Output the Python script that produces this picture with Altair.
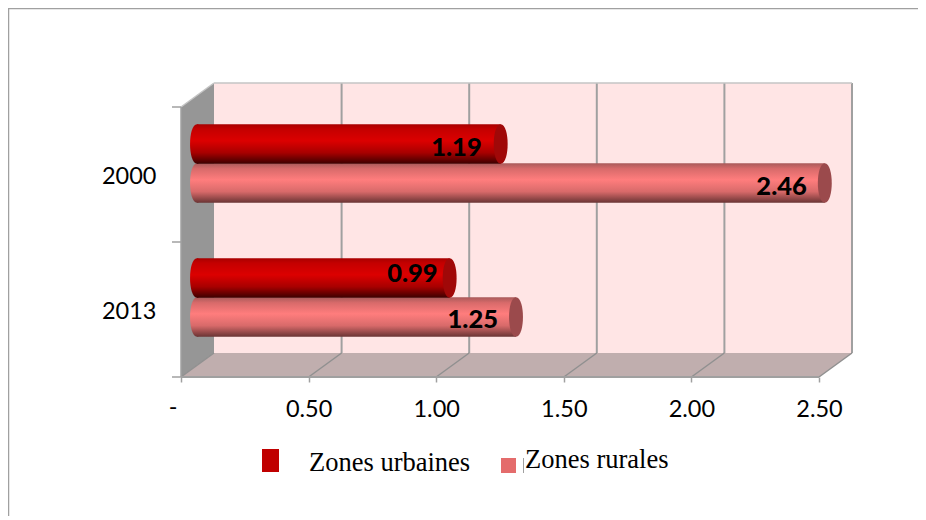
import altair as alt
import pandas as pd

# ---- values ----
years = ["2000", "2000", "2013", "2013"]
zones = ["Zones urbaines", "Zones rurales", "Zones urbaines", "Zones rurales"]
values = [1.19, 2.46, 0.99, 1.25]
x_ticks = [0.0, 0.5, 1.0, 1.5, 2.0, 2.5]
year_labels = ["2013", "2000"]

# ---- layout of the pseudo-3D scene ----
W, H = 910, 508
PX_PER_X, PX_PER_Y = 255.2, 135.0
X0_PAGE, Y0_PAGE = 181.0, 377.0
X_DOM = [(8 - X0_PAGE) / PX_PER_X, (8 + W - X0_PAGE) / PX_PER_X]
Y_DOM = [(Y0_PAGE - 8 - H) / PX_PER_Y, (Y0_PAGE - 8) / PX_PER_Y]
DX, DY = 33 / PX_PER_X, 24 / PX_PER_Y          # depth of the box
BAR_DX = 16 / PX_PER_X                         # bars stand mid-depth
BAR_H = 39.5 / PX_PER_Y
XMAX, YMAX = 2.5, 2.0
slot = {"2000": 1.5, "2013": 0.5}
GRID = "#a0a0a0"
LABEL_FONT = "Lato"

x_s = alt.Scale(domain=X_DOM, nice=False, zero=False)
y_s = alt.Scale(domain=Y_DOM, nice=False, zero=False)
x_axis = alt.Axis(values=x_ticks, domain=False, grid=False, title=None, tickSize=5, tickWidth=1.5,
                  tickColor=GRID, labelFont=LABEL_FONT, labelFontSize=23.5, labelColor="black",
                  labelPadding=15, labelOverlap=False, labelFlush=False,
                  labelExpr="datum.value == 0 ? '' : format(datum.value, '.2f')",
                  offset=-(8 + H - Y0_PAGE))
y_axis = alt.Axis(values=[0.5, 1.5], domain=False, grid=False, title=None, ticks=False,
                  labelFont=LABEL_FONT, labelFontSize=23.5, labelColor="black", labelPadding=25,
                  labelOffset=2,
                  labelExpr="datum.value == 0.5 ? '2013' : '2000'",
                  offset=-(X0_PAGE - 8))


def X(f="x"):
    return alt.X(f"{f}:Q", scale=x_s, axis=x_axis)


def Y(f="y"):
    return alt.Y(f"{f}:Q", scale=y_s, axis=y_axis)


def grad(stops):
    return alt.Gradient(gradient="linear", x1=0, y1=0, x2=0, y2=1,
                        stops=[alt.GradientStop(offset=o, color=c) for o, c in stops])


layers = []

# back wall
layers.append(alt.Chart(pd.DataFrame({"x": [DX], "x2": [XMAX + DX], "y": [DY], "y2": [YMAX + DY]}))
              .mark_rect(color="#ffe5e5")
              .encode(x=X(), x2="x2:Q", y=Y(), y2="y2:Q"))
# left wall
layers.append(alt.Chart(pd.DataFrame({"x": [0, DX], "y": [YMAX, YMAX + DY], "y2": [0, DY]}))
              .mark_area(color="#969696", orient="vertical")
              .encode(x=X(), y=Y(), y2="y2:Q"))
# floor
layers.append(alt.Chart(pd.DataFrame({"y": [0, DY], "x": [0, DX], "x2": [XMAX, XMAX + DX]}))
              .mark_area(color="#c0aeae", orient="horizontal")
              .encode(y=Y(), x=X(), x2="x2:Q"))
# grid: vertical on back wall, diagonal on floor
grid_v = pd.DataFrame({"x": [t + DX for t in x_ticks[1:]], "y": DY, "y2": YMAX + DY})
layers.append(alt.Chart(grid_v).mark_rule(color=GRID, strokeWidth=2)
              .encode(x=X(), y=Y(), y2="y2:Q"))
grid_d = pd.DataFrame({"x": x_ticks, "x2": [t + DX for t in x_ticks], "y": 0.0, "y2": DY})
layers.append(alt.Chart(grid_d).mark_rule(color="#909090", strokeWidth=1.5)
              .encode(x=X(), x2="x2:Q", y=Y(), y2="y2:Q"))
# top edges of the box
top = pd.DataFrame({"x": [0.0, DX], "x2": [DX, XMAX + DX], "y": [YMAX, YMAX + DY], "y2": [YMAX + DY, YMAX + DY]})
layers.append(alt.Chart(top).mark_rule(color="#c4c4c4", strokeWidth=1.5)
              .encode(x=X(), x2="x2:Q", y=Y(), y2="y2:Q"))
# front axis lines and left-hand ticks
layers.append(alt.Chart(pd.DataFrame({"x": [0.0], "x2": [XMAX], "y": [0.0]}))
              .mark_rule(color=GRID, strokeWidth=2).encode(x=X(), x2="x2:Q", y=Y()))
layers.append(alt.Chart(pd.DataFrame({"x": [0.0], "y": [0.0], "y2": [YMAX]}))
              .mark_rule(color=GRID, strokeWidth=1.5).encode(x=X(), y=Y(), y2="y2:Q"))
layers.append(alt.Chart(pd.DataFrame({"x": [-9 / PX_PER_X] * 3, "x2": [0.0] * 3, "y": [0.0, 1.0, 2.0]}))
              .mark_rule(color=GRID, strokeWidth=1.5).encode(x=X(), x2="x2:Q", y=Y()))

# cylinders
styles = {
    "Zones urbaines": dict(
        side=[(0, "#a80000"), (0.12, "#c40000"), (0.42, "#dc0000"), (0.72, "#a80000"), (1, "#3c0000")],
        cap="#a00808", shift=BAR_H / 2 - 0.002),
    "Zones rurales": dict(
        side=[(0, "#a85a5a"), (0.14, "#d86a6a"), (0.42, "#ff7d7d"), (0.72, "#d86a6a"), (1, "#6a3434")],
        cap="#9b4a4c", shift=-BAR_H / 2 + 0.002),
}
ELLIPSE = "M0,-1C0.47,-1 0.47,1 0,1C-0.47,1 -0.47,-1 0,-1Z"
SIZE = 39.5 ** 2
df = pd.DataFrame({"year": years, "zone": zones, "value": values})
df["c"] = [slot[y] + (11 if y == "2000" else 12) / PX_PER_Y for y in years]
order = ["Zones rurales", "Zones urbaines"]
for zone in order:
    st = styles[zone]
    d = df[df.zone == zone].copy()
    d["y"] = d.c + st["shift"]
    d["top"] = d.y + BAR_H / 2
    d["bot"] = d.y - BAR_H / 2
    d["start"] = BAR_DX
    d["end"] = d.value + BAR_DX
    layers.append(alt.Chart(d).mark_point(shape=ELLIPSE, filled=True, opacity=1, strokeWidth=0,
                                          fill=grad(st["side"]))
                  .encode(x=X("start"), y=Y(), size=alt.value(SIZE)))
    layers.append(alt.Chart(d).mark_rect(fill=grad(st["side"]))
                  .encode(x=X("start"), x2="end:Q", y=Y("top"), y2="bot:Q"))
    layers.append(alt.Chart(d).mark_point(shape=ELLIPSE, filled=True, opacity=1, strokeWidth=0,
                                          fill=st["cap"])
                  .encode(x=X("end"), y=Y(), size=alt.value(SIZE)))

# value labels
nudges = {1.19: (-3, 4), 2.46: (-2, 4), 0.99: (4, -4), 1.25: (-2, 3)}
for val, (ndx, ndy) in nudges.items():
    d = df[df.value == val].copy()
    d["y"] = d.c + styles[d.zone.iloc[0]]["shift"]
    layers.append(alt.Chart(d).mark_text(font=LABEL_FONT, fontWeight=900, fontSize=25.5, color="black",
                                         align="right", baseline="middle", dx=ndx, dy=ndy)
                  .encode(x=X("value"), y=Y(), text=alt.Text("value:Q", format=".2f")))

# "-" label of the zero tick
layers.append(alt.Chart(pd.DataFrame({"x": [0.0], "y": [0.0], "t": ["-"]}))
              .mark_text(font=LABEL_FONT, fontSize=23.5, color="black", dx=-8, dy=31)
              .encode(x=X(), y=Y(), text="t:N"))


# frame and legend (page pixels minus the 8px margin)
def px(p):
    return p - 8


layers.append(alt.Chart(pd.DataFrame({"a": [0]})).mark_rule(color="#a0a0a0", strokeWidth=1.5)
              .encode(x=alt.value(0.5), y=alt.value(0), y2=alt.value(H)))
layers.append(alt.Chart(pd.DataFrame({"a": [0]})).mark_rule(color="#a0a0a0", strokeWidth=1.5)
              .encode(x=alt.value(0), x2=alt.value(W), y=alt.value(0.5)))
layers.append(alt.Chart(pd.DataFrame({"a": [0]})).mark_rect(color="#c00000")
              .encode(x=alt.value(px(262)), x2=alt.value(px(279)), y=alt.value(px(449)), y2=alt.value(px(472))))
layers.append(alt.Chart(pd.DataFrame({"a": [0]})).mark_rect(color="#e46c6c")
              .encode(x=alt.value(px(501)), x2=alt.value(px(516)), y=alt.value(px(458)), y2=alt.value(px(473))))
layers.append(alt.Chart(pd.DataFrame({"a": [0]})).mark_rule(color="#a0a0a0", strokeWidth=1)
              .encode(x=alt.value(px(523.5)), y=alt.value(px(458)), y2=alt.value(px(473))))
layers.append(alt.Chart(pd.DataFrame({"t": ["Zones urbaines"]}))
              .mark_text(font="Liberation Serif", fontSize=26.5, color="black", align="left", baseline="alphabetic")
              .encode(x=alt.value(px(309)), y=alt.value(px(471)), text="t:N"))
layers.append(alt.Chart(pd.DataFrame({"t": ["Zones rurales"]}))
              .mark_text(font="Liberation Serif", fontSize=26.5, color="black", align="left", baseline="alphabetic")
              .encode(x=alt.value(px(525)), y=alt.value(px(468)), text="t:N"))

chart = alt.layer(*layers).properties(
    width=W, height=H, padding=0, autosize=alt.AutoSizeParams(type="none"),
    background="white",
).configure_view(stroke=None)

chart.save("out.html", embed_options={"renderer": "svg", "actions": False})
